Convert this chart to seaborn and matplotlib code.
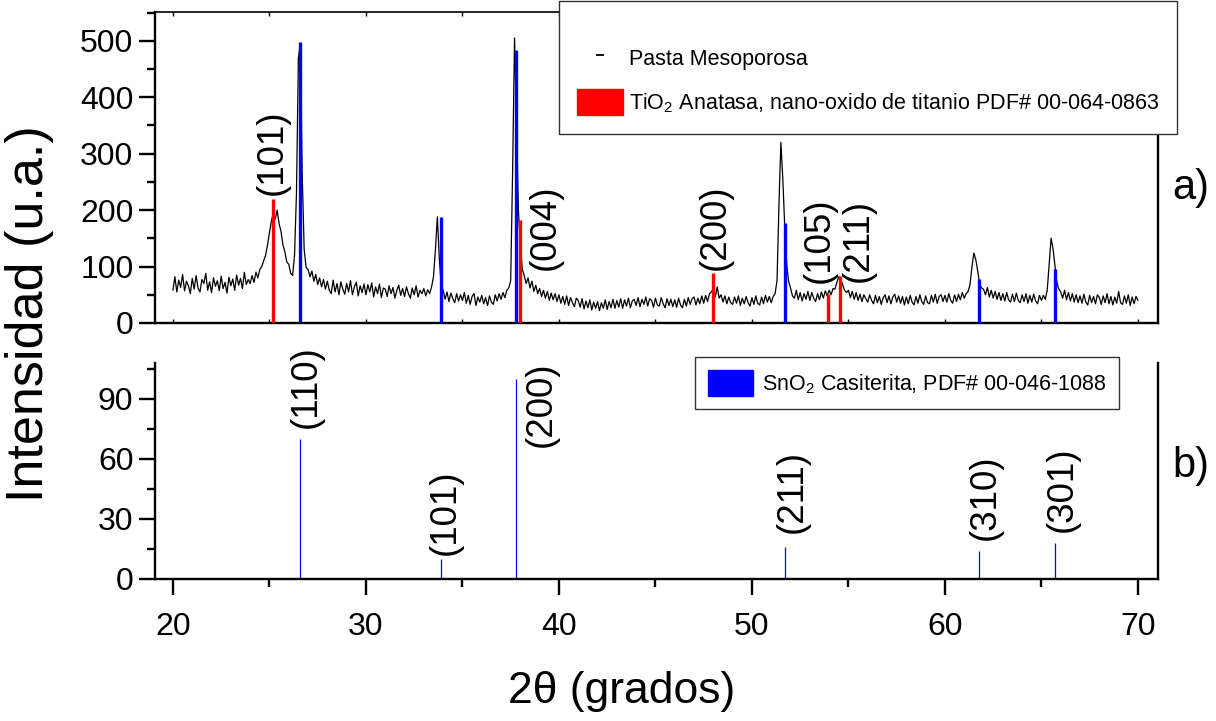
import numpy as np
import matplotlib
matplotlib.use("Agg")
import matplotlib.pyplot as plt
import seaborn as sns
from matplotlib.lines import Line2D
from matplotlib.patches import Patch
from matplotlib.ticker import MultipleLocator

# ---------------- data ----------------
scan_start = 20.0
scan_step = 0.1
intensity = [
    58, 82, 55, 76, 63, 86, 57, 74, 66, 52,        # 20
    79, 60, 84, 62, 55, 77, 70, 88, 58, 73,        # 21
    54, 80, 65, 75, 57, 83, 61, 72, 53, 81,        # 22
    66, 78, 58, 85, 67, 79, 61, 90, 68, 77,        # 23
    70, 84, 72, 90, 80, 95, 100, 110, 120, 138,    # 24
    160, 180, 195, 184, 200, 176, 162, 138, 126, 108,  # 25
    104, 88, 84, 120, 230, 470, 495, 260, 130, 98,     # 26
    95, 82, 92, 74, 86, 68, 80, 64, 77, 60,        # 27
    74, 58, 52, 76, 55, 70, 50, 73, 60, 51,        # 28
    70, 55, 75, 50, 64, 72, 48, 66, 54, 69,        # 29
    50, 68, 55, 71, 46, 64, 52, 69, 45, 62,        # 30
    60, 47, 66, 52, 63, 44, 58, 67, 49, 61,        # 31
    47, 64, 52, 44, 62, 50, 66, 46, 58, 52,        # 32
    61, 48, 59, 52, 64, 82, 130, 188, 115, 66,     # 33
    58, 42, 55, 38, 53, 43, 36, 52, 39, 50,        # 34
    40, 54, 35, 49, 33, 47, 52, 31, 46, 37,        # 35
    49, 34, 45, 31, 48, 37, 33, 50, 39, 52,        # 36
    42, 54, 45, 58, 62, 75, 270, 505, 360, 200,    # 37
    140, 95, 84, 70, 80, 62, 74, 56, 67, 52,       # 38
    61, 47, 58, 44, 56, 40, 53, 41, 52, 38,        # 39
    50, 35, 47, 33, 48, 31, 45, 36, 29, 44,        # 40
    40, 28, 43, 25, 39, 27, 41, 23, 37, 26,        # 41
    38, 22, 36, 26, 41, 24, 38, 27, 42, 26,        # 42
    40, 28, 43, 26, 41, 30, 44, 27, 39, 42,        # 43
    31, 45, 29, 42, 33, 46, 30, 43, 40, 28,        # 44
    44, 32, 30, 45, 34, 27, 43, 31, 42, 29,        # 45
    41, 28, 44, 32, 27, 42, 30, 45, 33, 43,        # 46
    46, 32, 44, 34, 48, 35, 49, 38, 52, 55,        # 47
    60, 46, 64, 44, 50, 37, 48, 34, 46, 36,        # 48
    33, 46, 35, 48, 31, 44, 34, 47, 36, 30,        # 49
    45, 33, 48, 35, 32, 46, 34, 49, 37, 47,        # 50
    36, 47, 52, 75, 210, 320, 255, 170, 105, 74,   # 51
    62, 48, 44, 58, 41, 54, 39, 52, 42, 56,        # 52
    40, 54, 44, 38, 52, 41, 55, 44, 57, 48,        # 53
    58, 50, 61, 60, 72, 82, 78, 68, 58, 54,        # 54
    58, 45, 56, 42, 54, 40, 51, 38, 50, 43,        # 55
    37, 50, 40, 34, 49, 36, 47, 33, 45, 50,        # 56
    36, 48, 34, 46, 51, 37, 48, 35, 47, 32,        # 57
    46, 34, 49, 37, 32, 47, 35, 50, 38, 33,        # 58
    48, 36, 34, 49, 37, 51, 35, 47, 50, 38,        # 59
    49, 37, 52, 40, 35, 50, 38, 51, 41, 54,        # 60
    44, 52, 56, 68, 100, 124, 112, 92, 68, 62,     # 61
    60, 50, 63, 46, 58, 44, 56, 42, 54, 40,        # 62
    52, 39, 54, 41, 37, 51, 38, 53, 40, 36,        # 63
    50, 38, 52, 35, 49, 37, 51, 39, 34, 49,        # 64
    40, 49, 42, 58, 105, 150, 132, 102, 72, 60,    # 65
    55, 44, 58, 41, 54, 39, 52, 37, 50, 36,        # 66
    48, 35, 51, 37, 32, 49, 36, 47, 34, 50,        # 67
    45, 33, 48, 36, 52, 34, 47, 32, 46, 35,        # 68
    56, 36, 33, 48, 35, 50, 31, 46, 34, 47,        # 69
    40,                                            # 70
]
two_theta = np.round(scan_start + scan_step * np.arange(len(intensity)), 2)

# Anatase TiO2 reference sticks (top panel)
tio2_pos = [25.16, 37.98, 48.0, 53.92, 54.58]
tio2_height = [220, 183, 89, 51, 84]
tio2_labels = ["(101)", "(004)", "(200)", "(105)", "(211)"]
tio2_label_x = [25.16, 39.3, 48.1, 53.5, 55.5]
tio2_label_y = [227, 94, 94, 71, 73]

# SnO2 cassiterite reference sticks
sno2_pos = [26.58, 33.87, 37.75, 51.7, 61.74, 65.72]
sno2_height_top = [498, 188, 484, 177, 78, 96]
sno2_intensity = [70, 10, 100, 16, 14, 18]
sno2_labels = ["(110)", "(101)", "(200)", "(211)", "(310)", "(301)"]
sno2_label_x = [26.9, 34.1, 39.1, 52.1, 62.07, 66.1]
sno2_label_y = [75.5, 12, 66, 23, 19.5, 23.5]

# ---------------- style ----------------
sns.set_theme(style="white")
plt.rcParams["font.family"] = ["Liberation Sans", "DejaVu Sans"]
plt.rcParams["mathtext.fontset"] = "custom"
plt.rcParams["mathtext.rm"] = "Liberation Sans"
plt.rcParams["mathtext.it"] = "Liberation Sans:italic"
plt.rcParams["axes.edgecolor"] = "black"
plt.rcParams["axes.linewidth"] = 1.7
plt.rcParams["text.color"] = "black"
plt.rcParams["axes.labelcolor"] = "black"
plt.rcParams["xtick.color"] = "black"
plt.rcParams["ytick.color"] = "black"
plt.rcParams["legend.labelcolor"] = "black"

fig = plt.figure(figsize=(12.16, 7.21), dpi=100)
W, H = 1216.0, 721.0
ax1 = fig.add_axes([155 / W, 1 - 323 / H, (1158 - 155) / W, (323 - 12) / H])
ax2 = fig.add_axes([155 / W, 1 - 579 / H, (1158 - 155) / W, (579 - 363) / H])

xlim = (19.07, 71.04)

# ---------------- top panel ----------------
sns.lineplot(x=two_theta, y=intensity, ax=ax1, color="black", linewidth=0.9,
             legend=False, zorder=2)
ax1.vlines(tio2_pos, 0, tio2_height, colors="#ff0000", linewidth=2.4, zorder=3)
ax1.vlines(sno2_pos, 0, sno2_height_top, colors="#0000ff", linewidth=2.4, zorder=3)
for lx, ly, lab in zip(tio2_label_x, tio2_label_y, tio2_labels):
    ax1.text(lx, ly, lab, rotation=90, ha="center", va="bottom", fontsize=26.5,
             color="black")

ax1.set_xlim(*xlim)
ax1.set_ylim(0, 551)
ax1.set_xlabel("")
ax1.set_ylabel("")
ax1.yaxis.set_major_locator(MultipleLocator(100))
ax1.yaxis.set_minor_locator(MultipleLocator(50))
ax1.xaxis.set_major_locator(MultipleLocator(5))
ax1.tick_params(axis="y", which="major", left=True, direction="out", length=11.5,
                width=1.7, labelsize=23, pad=4, colors="black")
ax1.tick_params(axis="y", which="minor", left=True, direction="out", length=5.8,
                width=1.7)
ax1.tick_params(axis="x", which="major", bottom=True, top=True, direction="in",
                length=3, width=1.0, labelbottom=False)
ax1.spines["top"].set_linewidth(1.2)
for s in ax1.spines.values():
    s.set_color("black")

h1 = Line2D([], [], color="black", marker="_", linestyle="None", markersize=6,
            markeredgewidth=1.3)
h2 = Patch(facecolor="#ff0000", edgecolor="#ff0000")
leg1 = ax1.legend([h1, h2],
                  ["Pasta Mesoporosa",
                   "TiO$_2$ Anatasa, nano-oxido de titanio PDF# 00-064-0863"],
                  loc="upper left", bbox_to_anchor=(559 / W, 1 - 1 / H),
                  bbox_transform=fig.transFigure, borderaxespad=0, frameon=True,
                  fancybox=False, shadow=False, framealpha=1, fontsize=15.5,
                  handlelength=2.1, handleheight=1.5, handletextpad=0.3,
                  labelspacing=0.85, borderpad=0.85, title=" ", title_fontsize=6,
                  edgecolor="#333333")
leg1.get_frame().set_linewidth(1.0)

# ---------------- bottom panel ----------------
ax2.vlines(sno2_pos, 0, sno2_intensity, colors="#0000ff", linewidth=0.9)
for lx, ly, lab in zip(sno2_label_x, sno2_label_y, sno2_labels):
    ax2.text(lx, ly, lab, rotation=90, ha="center", va="bottom", fontsize=26.5,
             color="black")
ax2.set_xlim(*xlim)
ax2.set_ylim(0, 108)
ax2.yaxis.set_major_locator(MultipleLocator(30))
ax2.yaxis.set_minor_locator(MultipleLocator(15))
ax2.xaxis.set_major_locator(MultipleLocator(10))
ax2.xaxis.set_minor_locator(MultipleLocator(5))
ax2.tick_params(axis="both", which="major", left=True, bottom=True, direction="out",
                length=11.5, width=1.7, labelsize=23, pad=4, colors="black")
ax2.tick_params(axis="both", which="minor", left=True, bottom=True, direction="out",
                length=5.8, width=1.7)
ax2.tick_params(axis="x", which="major", pad=12)
ax2.spines["top"].set_visible(False)
for s in ax2.spines.values():
    s.set_color("black")

leg2 = ax2.legend([Patch(facecolor="#0000ff", edgecolor="#0000ff")],
                  ["SnO$_2$ Casiterita, PDF# 00-046-1088"],
                  loc="upper left", bbox_to_anchor=(695 / W, 1 - 357 / H),
                  bbox_transform=fig.transFigure, borderaxespad=0, frameon=True,
                  fancybox=False, shadow=False, framealpha=1, fontsize=15.5,
                  handlelength=2.1, handleheight=1.5, handletextpad=0.4,
                  borderpad=0.6, edgecolor="#333333")
leg2.get_frame().set_linewidth(1.0)

# ---------------- labels ----------------
fig.text(30 / W, 1 - 314 / H, "Intensidad (u.a.)", rotation=90, ha="center",
         va="center", fontsize=37.5, color="black")
fig.text(622 / W, 1 - 692 / H, "2θ (grados)", ha="center", va="center",
         fontsize=32, color="black")
fig.text(1191 / W, 1 - 188 / H, "a)", ha="center", va="center", fontsize=30,
         color="black")
fig.text(1191 / W, 1 - 466 / H, "b)", ha="center", va="center", fontsize=30,
         color="black")

fig.savefig("out.png", dpi=100)
